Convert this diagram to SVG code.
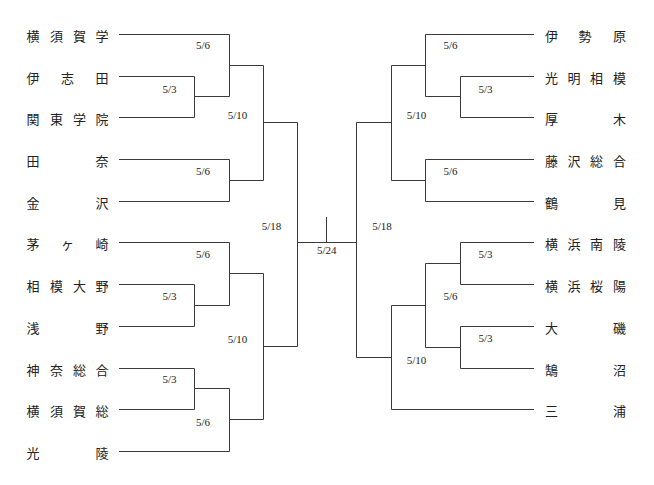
<svg xmlns="http://www.w3.org/2000/svg" width="654" height="485" viewBox="0 0 654 485">
<style>
.c{fill:none;stroke:#3a3a3a;stroke-width:1}
.t{font-family:"Noto Sans CJK JP","Noto Sans CJK SC",sans-serif;font-size:13px;fill:#222;text-anchor:middle;dominant-baseline:central}
.d{font-family:"Liberation Serif",serif;font-size:11px;fill:#222;text-anchor:middle}
</style>
<rect width="654" height="485" fill="#fff"/>
<g id="connectors" class="c">
<path d="M119,34.5 H229.5 V96.5 H194.5 M119,76.5 H194.5 V117.5 H119 M229.5,65.5 H263.5"/>
<path d="M119,159.5 H229.5 V201.5 H119 M229.5,180.5 H263.5"/>
<path d="M263.5,65.5 V180.5 M263.5,122.5 H297.5"/>
<path d="M119,242.5 H229.5 V305.5 H194.5 M119,284.5 H194.5 V326.5 H119 M229.5,273.5 H263.5"/>
<path d="M119,368.5 H194.5 V409.5 H119 M194.5,388.5 H229.5 V451.5 H119 M229.5,419.5 H263.5"/>
<path d="M263.5,273.5 V419.5 M263.5,346.5 H297.5"/>
<path d="M297.5,122.5 V346.5 M297.5,242.5 H356.5 M326.5,217 V242.5"/>
<path d="M534,34.5 H425.5 V96.5 H460.5 M534,76.5 H460.5 V117.5 H534 M425.5,65.5 H391.5"/>
<path d="M534,159.5 H425.5 V201.5 H534 M425.5,180.5 H391.5"/>
<path d="M391.5,65.5 V180.5 M391.5,122.5 H356.5"/>
<path d="M534,242.5 H460.5 V284.5 H534 M460.5,263.5 H425.5 M534,326.5 H460.5 V368.5 H534 M460.5,347.5 H425.5 M425.5,263.5 V347.5 M425.5,305.5 H391.5"/>
<path d="M534,409.5 H391.5 V305.5 M391.5,357.5 H356.5"/>
<path d="M356.5,122.5 V357.5"/>
</g>
<g id="dates" class="d">
<text x="203" y="49.3">5/6</text>
<text x="169.5" y="92.6">5/3</text>
<text x="237.5" y="118.6">5/10</text>
<text x="203" y="175.3">5/6</text>
<text x="271.5" y="230.3">5/18</text>
<text x="203" y="257.6">5/6</text>
<text x="169.5" y="300.3">5/3</text>
<text x="237.5" y="342.6">5/10</text>
<text x="169.5" y="382.6">5/3</text>
<text x="203" y="426.3">5/6</text>
<text x="326.7" y="253.6">5/24</text>
<text x="450.5" y="49.3">5/6</text>
<text x="485.5" y="92.6">5/3</text>
<text x="416.5" y="118.6">5/10</text>
<text x="450.5" y="175.3">5/6</text>
<text x="382" y="230.3">5/18</text>
<text x="485.5" y="258.3">5/3</text>
<text x="450.5" y="300.3">5/6</text>
<text x="485.5" y="342.3">5/3</text>
<text x="416.5" y="364.3">5/10</text>
</g>
<g id="team-yokosukagakuin" class="t"><text x="33 56.5 79.5 102" y="35">横須賀学</text></g>
<g id="team-iseda" class="t"><text x="33 67.5 102" y="77">伊志田</text></g>
<g id="team-kantogakuin" class="t"><text x="33 56.5 79.5 102" y="118.5">関東学院</text></g>
<g id="team-tana" class="t"><text x="33 102" y="160.5">田奈</text></g>
<g id="team-kanazawa" class="t"><text x="33 102" y="202">金沢</text></g>
<g id="team-chigasaki" class="t"><text x="33 67.5 102" y="243">茅ヶ崎</text></g>
<g id="team-sagamiono" class="t"><text x="33 56.5 79.5 102" y="285">相模大野</text></g>
<g id="team-asano" class="t"><text x="33 102" y="327">浅野</text></g>
<g id="team-kanagawasogo" class="t"><text x="33 56.5 79.5 102" y="369">神奈総合</text></g>
<g id="team-yokosukasogo" class="t"><text x="33 56.5 79.5 102" y="410">横須賀総</text></g>
<g id="team-koryo" class="t"><text x="33 102" y="452">光陵</text></g>
<g id="team-isehara" class="t"><text x="551.5 585 619.5" y="35">伊勢原</text></g>
<g id="team-komyosagami" class="t"><text x="551.5 574 596.5 619.5" y="77">光明相模</text></g>
<g id="team-atsugi" class="t"><text x="551.5 619.5" y="118.5">厚木</text></g>
<g id="team-fujisawasogo" class="t"><text x="551.5 574 596.5 619.5" y="160.5">藤沢総合</text></g>
<g id="team-tsurumi" class="t"><text x="551.5 619.5" y="202">鶴見</text></g>
<g id="team-yokohamanamiryo" class="t"><text x="551.5 574 596.5 619.5" y="243">横浜南陵</text></g>
<g id="team-yokohamaoyo" class="t"><text x="551.5 574 596.5 619.5" y="285">横浜桜陽</text></g>
<g id="team-oiso" class="t"><text x="551.5 619.5" y="327">大磯</text></g>
<g id="team-kugenuma" class="t"><text x="551.5 619.5" y="369">鵠沼</text></g>
<g id="team-miura" class="t"><text x="551.5 619.5" y="410">三浦</text></g>
</svg>
